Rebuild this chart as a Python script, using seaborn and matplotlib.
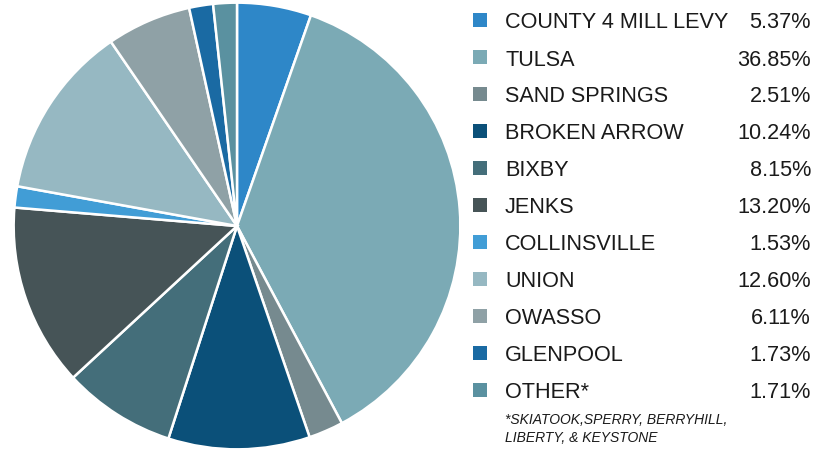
import matplotlib
matplotlib.use("Agg")
import matplotlib.pyplot as plt
import seaborn as sns

# --- data ---
labels = ["COUNTY 4 MILL LEVY", "TULSA", "SAND SPRINGS", "BROKEN ARROW", "BIXBY",
          "JENKS", "COLLINSVILLE", "UNION", "OWASSO", "GLENPOOL", "OTHER*"]
shares = [5.37, 36.85, 2.51, 10.24, 8.15, 13.20, 1.53, 12.60, 6.11, 1.73, 1.71]
colors = ["#2E87C8", "#7BAAB5", "#768A8F", "#0B5079", "#446E7A", "#465457",
          "#419DD6", "#96B8C2", "#8FA1A6", "#1A6AA3", "#5A91A0"]
footnote = "*SKIATOOK,SPERRY, BERRYHILL,\nLIBERTY, & KEYSTONE"

sns.set_theme(style="white")
plt.rcParams['font.family'] = ['Liberation Sans', 'DejaVu Sans']
palette = sns.color_palette(colors)

W, H = 813, 452
fig = plt.figure(figsize=(W / 100, H / 100), dpi=100)

# pie
ax = fig.add_axes([13 / W, 1 / H, 448 / W, 448 / H])
ax.pie(shares, colors=palette, startangle=90, counterclock=False, radius=1,
       wedgeprops=dict(edgecolor="white", linewidth=1.8))
ax.set_xlim(-1.003, 1.003)
ax.set_ylim(-1.003, 1.003)
ax.set_aspect("equal")
ax.axis("off")

# legend as a table on its own axes (rows in data units)
lax = fig.add_axes([0, 0, 1, 1])
lax.set_xlim(0, W)
lax.set_ylim(H, 0)
lax.axis("off")
row0, step = 23, 37.0
for i, (lab, val, col) in enumerate(zip(labels, shares, palette)):
    y = row0 + i * step
    lax.add_patch(plt.Rectangle((473, y - 9), 14, 14, color=col, lw=0))
    lax.text(505, y, lab, fontsize=15.6, va="center", ha="left", color="#1a1a1a")
    lax.text(811, y, f"{val:.2f}%", fontsize=15.6, va="center", ha="right", color="#1a1a1a")
lax.text(505, 413, footnote, fontsize=10, style="italic", va="top", ha="left",
         color="#1a1a1a", linespacing=1.35)

fig.savefig("out.png", dpi=100, facecolor="white")
